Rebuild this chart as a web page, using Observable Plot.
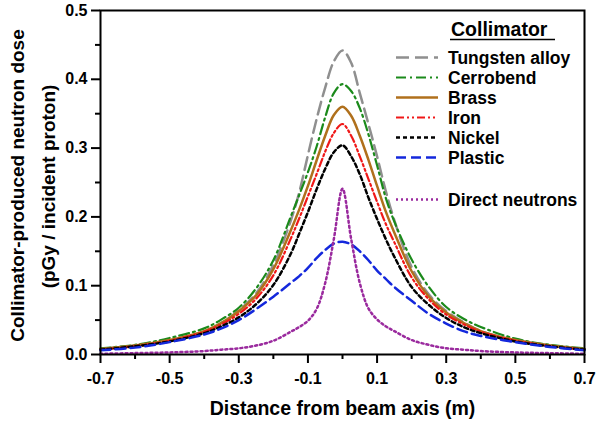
<!DOCTYPE html>
<html><head><meta charset="utf-8">
<script src="https://cdn.jsdelivr.net/npm/d3@7"></script>
<script src="https://cdn.jsdelivr.net/npm/@observablehq/plot@0.6"></script>
<style>
body{margin:0;background:#fff;}
#chart{position:relative;width:600px;height:421px;font-family:"Liberation Sans",Arial,Helvetica,sans-serif;}
#legend{position:absolute;left:0;top:0;}
</style></head><body><div id="chart"></div>
<script>
// Distance from beam axis (m)
const xs = [-0.7,-0.6,-0.5,-0.4,-0.35,-0.3,-0.25,-0.2,-0.15,-0.125,-0.1,-0.075,-0.05,-0.025,0,0.025,0.05,0.075,0.1,0.125,0.15,0.2,0.25,0.3,0.35,0.4,0.5,0.6,0.7];
// Dose (pGy / incident proton)
const tungsten  = [0.008,0.013,0.021,0.033,0.046,0.064,0.089,0.130,0.194,0.236,0.290,0.342,0.388,0.426,0.442,0.424,0.380,0.335,0.288,0.238,0.195,0.127,0.087,0.063,0.047,0.034,0.021,0.013,0.008];
const cerrobend = [0.009,0.014,0.024,0.038,0.051,0.068,0.096,0.137,0.200,0.232,0.265,0.302,0.345,0.380,0.393,0.383,0.358,0.320,0.275,0.228,0.193,0.138,0.098,0.069,0.052,0.040,0.023,0.014,0.009];
const brass     = [0.008,0.013,0.021,0.034,0.046,0.063,0.086,0.124,0.180,0.211,0.245,0.282,0.318,0.348,0.360,0.347,0.318,0.283,0.245,0.208,0.177,0.121,0.084,0.061,0.046,0.034,0.021,0.013,0.008];
const iron      = [0.007,0.012,0.020,0.033,0.044,0.059,0.081,0.115,0.168,0.198,0.230,0.262,0.295,0.322,0.335,0.318,0.288,0.255,0.222,0.190,0.163,0.112,0.080,0.058,0.044,0.033,0.020,0.012,0.007];
const nickel    = [0.007,0.012,0.019,0.031,0.041,0.054,0.073,0.101,0.146,0.176,0.207,0.240,0.270,0.294,0.304,0.288,0.262,0.228,0.197,0.168,0.142,0.098,0.072,0.053,0.040,0.031,0.019,0.012,0.007];
const plastic   = [0.006,0.010,0.018,0.029,0.038,0.050,0.066,0.084,0.104,0.114,0.126,0.140,0.152,0.161,0.164,0.160,0.150,0.137,0.122,0.110,0.098,0.078,0.059,0.045,0.034,0.027,0.018,0.011,0.006];
const direct    = [0.001,0.002,0.003,0.005,0.007,0.009,0.013,0.020,0.033,0.040,0.049,0.066,0.104,0.168,0.241,0.168,0.104,0.067,0.051,0.041,0.034,0.021,0.014,0.009,0.007,0.005,0.003,0.002,0.001];

const seriesNames = ["Tungsten alloy","Cerrobend","Brass","Iron","Nickel","Plastic","Direct neutrons"];
const seriesValues = [tungsten, cerrobend, brass, iron, nickel, plastic, direct];
const seriesColors = ["#8f8f8f","#1b8a1b","#b0701c","#f01818","#000000","#1428dc","#9a2a9e"];
const seriesDashes = ["13,6","10,4,2,4","none","8,3,2,3,2,3","4,3","10,5","2,3"];
const seriesWidths = [2.5,2.2,2.5,2.2,2.5,2.5,2.5];

const xMajor = [-0.7,-0.5,-0.3,-0.1,0.1,0.3,0.5,0.7];
const xMinor = [-0.6,-0.4,-0.2,0,0.2,0.4,0.6];
const yMajor = [0,0.1,0.2,0.3,0.4,0.5];
const yMinor = [0.05,0.15,0.25,0.35,0.45];

const legendTitle = "Collimator";
const xTitle = "Distance from beam axis (m)";
const yTitle1 = "Collimator-produced neutron dose";
const yTitle2 = "(pGy / incident proton)";

const rows = seriesNames.flatMap((name, i) => xs.map((x, j) => ({series: name, x, y: seriesValues[i][j]})));

const lineMarks = seriesNames.map((name, i) =>
  Plot.line(rows.filter(d => d.series === name), {
    x: "x", y: "y", stroke: seriesColors[i], strokeWidth: seriesWidths[i],
    strokeDasharray: seriesDashes[i], curve: "catmull-rom"
  })
);

const font = "'Liberation Sans', Arial, Helvetica, sans-serif";
const plot = Plot.plot({
  width: 600, height: 421,
  marginLeft: 100, marginRight: 16, marginTop: 10, marginBottom: 67,
  x: {domain: [-0.7, 0.7]},
  y: {domain: [0, 0.5]},
  style: {fontFamily: font, fontWeight: "bold", fontSize: "16px", color: "black", background: "white", overflow: "visible"},
  marks: [
    ...lineMarks,
    Plot.frame({strokeWidth: 2}),
    Plot.axisX(xMajor, {tickSize: 9, tickPadding: 9, tickFormat: d => d.toFixed(1), strokeWidth: 2, label: null, fontSize: 16}),
    Plot.axisX(xMinor, {tickSize: 5, tickFormat: () => "", strokeWidth: 2, label: null}),
    Plot.axisY(yMajor, {tickSize: 9, tickPadding: 4, tickFormat: d => d.toFixed(1), strokeWidth: 2, label: null, fontSize: 16}),
    Plot.axisY(yMinor, {tickSize: 5, tickFormat: () => "", strokeWidth: 2, label: null}),
    Plot.text([yTitle1], {frameAnchor: "left", textAnchor: "middle", lineAnchor: "middle", rotate: -90, dx: -83, dy: 3, text: d => d, fontSize: 19}),
    Plot.text([yTitle2], {frameAnchor: "left", textAnchor: "middle", lineAnchor: "middle", rotate: -90, dx: -52, dy: 4, text: d => d, fontSize: 19}),
    Plot.text([xTitle], {frameAnchor: "bottom", textAnchor: "middle", lineAnchor: "middle", dy: 54, text: d => d, fontSize: 19.5})
  ]
});
const chart = document.getElementById("chart");
chart.appendChild(plot);

// Legend overlay
const lg = d3.select(chart).append("svg").attr("id", "legend").attr("width", 600).attr("height", 421)
  .style("font-family", font).style("font-weight", "bold");
const lx0 = 396, lx1 = 438, tx = 448;
lg.append("text").attr("x", 451).attr("y", 36).attr("font-size", 19.5).text(legendTitle);
lg.append("line").attr("x1", 450).attr("x2", 555).attr("y1", 39.5).attr("y2", 39.5).attr("stroke", "black").attr("stroke-width", 1.5);
seriesNames.forEach((name, i) => {
  const y = 57.5 + i * 20 + (i === seriesNames.length - 1 ? 22 : 0);
  lg.append("line").attr("x1", lx0).attr("x2", lx1).attr("y1", y).attr("y2", y)
    .attr("stroke", seriesColors[i]).attr("stroke-width", seriesWidths[i])
    .attr("stroke-dasharray", seriesDashes[i]);
  lg.append("text").attr("x", tx).attr("y", y).attr("dy", "0.36em").attr("font-size", 17.5).text(name);
});
</script></body></html>
